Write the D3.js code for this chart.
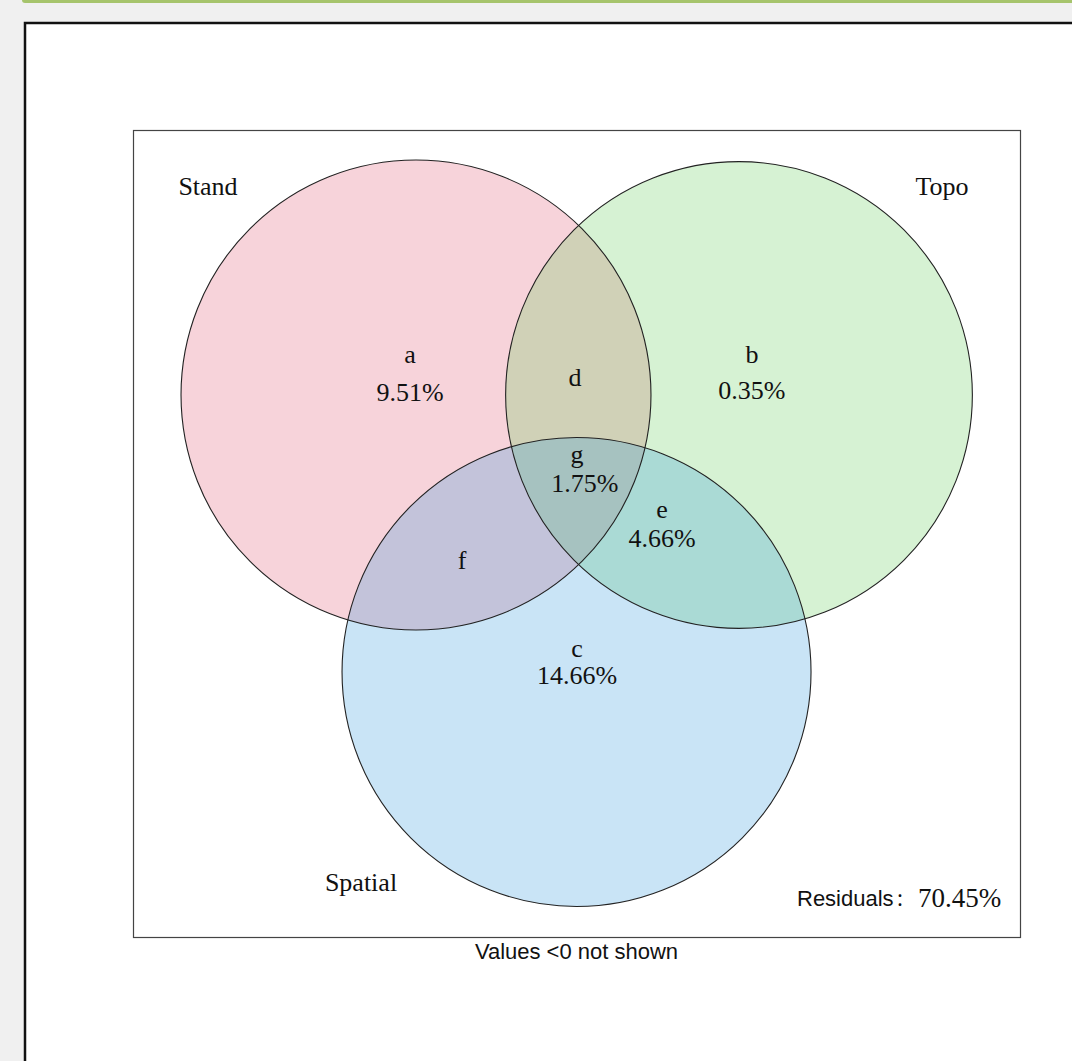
<!DOCTYPE html>
<html>
<head>
<meta charset="utf-8">
<script src="https://cdn.jsdelivr.net/npm/d3@7"></script>
<style>
  html, body { margin: 0; padding: 0; background: #f0f0f0; }
  svg { display: block; }
</style>
</head>
<body>
<script>
// Variance partitioning among three explanatory sets
const setNames = ["Stand", "Topo", "Spatial"];
const setColors = ["#e05671", "#61cd56", "#2f97dc"];
const regionKeys = ["a", "b", "c", "d", "e", "f", "g"];
const regionValues = [9.51, 0.35, 14.66, null, 4.66, null, 1.75]; // null = negative, not shown
const residual = 70.45;

const W = 1072, H = 1061;
const svg = d3.select("body").append("svg").attr("width", W).attr("height", H);

// page chrome
svg.append("rect").attr("x", 0).attr("y", 0).attr("width", W).attr("height", H).attr("fill", "#f0f0f0");
svg.append("rect").attr("x", 22).attr("y", -4).attr("width", W).attr("height", 7).attr("rx", 3).attr("fill", "#a6c46c");
svg.append("rect").attr("x", 25).attr("y", 23).attr("width", W).attr("height", H)
  .attr("fill", "#fff").attr("stroke", "#111").attr("stroke-width", 2.5);

// plot frame
const frame = { x0: 133, y0: 130, x1: 1020, y1: 937 };
svg.append("rect").attr("x", frame.x0 + 0.5).attr("y", frame.y0 + 0.5)
  .attr("width", frame.x1 - frame.x0).attr("height", frame.y1 - frame.y0)
  .attr("fill", "none").attr("stroke", "#444").attr("stroke-width", 1.2);

// Venn layout in unit coordinates (radius ~ 1.45)
const sx = d3.scaleLinear().domain([-1, 1]).range([416, 739]);
const sy = d3.scaleLinear().domain([-1, 1]).range([395, 718]);
const unit = sx(1) - sx(0);
const circles = [
  { cx: -1, cy: -1, r: 1.455 },
  { cx: 1, cy: -1, r: 1.445 },
  { cx: -0.006, cy: 0.715, r: 1.452 }
];

const g = svg.append("g");
g.selectAll("circle.fill").data(circles).join("circle")
  .attr("class", "fill")
  .attr("cx", d => sx(d.cx)).attr("cy", d => sy(d.cy)).attr("r", d => d.r * unit)
  .attr("fill", (d, i) => setColors[i])
  .attr("fill-opacity", 0.26);
g.selectAll("circle.edge").data(circles).join("circle")
  .attr("class", "edge")
  .attr("cx", d => sx(d.cx)).attr("cy", d => sy(d.cy)).attr("r", d => d.r * unit)
  .attr("fill", "none").attr("stroke", "#222").attr("stroke-width", 1.1);

// label baselines for each region (unit coordinates): [x, letterY, valueX, valueY]
const regionPos = {
  a: [-1.037, -1.198, -1.037, -0.963],
  b: [1.080, -1.198, 1.080, -0.975],
  c: [-0.003, 0.622, -0.003, 0.789],
  d: [-0.015, -1.056],
  e: [0.523, -0.238, 0.523, -0.059],
  f: [-0.715, 0.077],
  g: [-0.003, -0.579, 0.046, -0.399]
};
const serif = "'Liberation Serif', 'Times New Roman', serif";
const sans = "'Liberation Sans', Arial, sans-serif";

regionKeys.forEach((k, i) => {
  const p = regionPos[k];
  const v = regionValues[i];
  svg.append("text").attr("x", sx(p[0])).attr("y", sy(p[1]))
    .attr("text-anchor", "middle").attr("font-family", serif).attr("font-size", 26).attr("fill", "#111")
    .text(k);
  if (v != null) {
    svg.append("text").attr("x", sx(p[2])).attr("y", sy(p[3]))
      .attr("text-anchor", "middle").attr("font-family", serif).attr("font-size", 26).attr("fill", "#111")
      .text(d3.format(".2f")(v) + "%");
  }
});

// set names
const namePos = [[208, 195], [942, 195], [361, 891]];
setNames.forEach((n, i) => {
  svg.append("text").attr("x", namePos[i][0]).attr("y", namePos[i][1])
    .attr("text-anchor", "middle").attr("font-family", serif).attr("font-size", 26).attr("fill", "#111").text(n);
});

// residual
svg.append("text").attr("x", 797).attr("y", 906)
  .attr("font-family", sans).attr("font-size", 22).attr("fill", "#111")
  .text("Residuals")
  .append("tspan").attr("font-family", "'Noto Sans CJK SC', sans-serif").attr("font-size", 18).attr("dx", 2).text("：");
svg.append("text").attr("x", 918).attr("y", 907)
  .attr("font-family", serif).attr("font-size", 27).attr("fill", "#111").text(d3.format(".2f")(residual) + "%");

// footnote
svg.append("text").attr("x", 576.5).attr("y", 959).attr("text-anchor", "middle")
  .attr("font-family", sans).attr("font-size", 22).attr("fill", "#111").text("Values <0 not shown");
</script>
</body>
</html>
